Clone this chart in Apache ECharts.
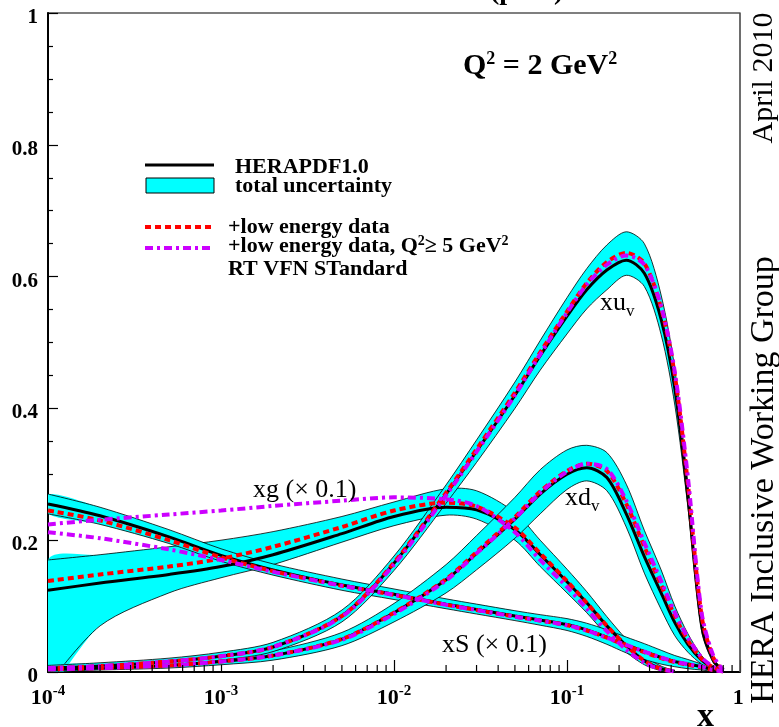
<!DOCTYPE html>
<html>
<head>
<meta charset="utf-8">
<script src="https://cdn.jsdelivr.net/npm/echarts@6/dist/echarts.min.js"></script>
<style>
  html, body { margin: 0; padding: 0; background: #fff; }
  #chart { width: 779px; height: 727px; }
</style>
</head>
<body>
<div id="chart"></div>
<script>
// x grid shared by all curves
const xs = [1e-4, 2e-4, 5e-4, 1e-3, 2e-3, 5e-3, 0.01, 0.02, 0.03, 0.05, 0.07, 0.1, 0.13, 0.17, 0.22, 0.28, 0.35, 0.42, 0.5, 0.6, 0.7, 0.8]

// xu_v
const uv   = [0.006,0.009,0.016,0.024,0.038,0.085,0.165,0.27,0.335,0.42,0.48,0.54,0.58,0.61,0.625,0.605,0.535,0.43,0.265,0.07,0.018,0.002]
const uvUp = [0.010,0.014,0.021,0.030,0.045,0.094,0.176,0.284,0.352,0.44,0.503,0.568,0.612,0.648,0.668,0.65,0.572,0.46,0.285,0.08,0.022,0.002]
const uvLo = [0.002,0.005,0.011,0.018,0.031,0.076,0.154,0.256,0.318,0.40,0.458,0.513,0.551,0.58,0.602,0.585,0.512,0.405,0.25,0.062,0.014,0.001]
const uvLE = [0.006,0.009,0.016,0.024,0.038,0.085,0.166,0.272,0.338,0.424,0.485,0.547,0.59,0.622,0.636,0.62,0.552,0.45,0.285,0.085,0.022,0.002]
const uvQ5 = [0.006,0.009,0.016,0.024,0.038,0.084,0.163,0.268,0.334,0.42,0.482,0.545,0.588,0.618,0.632,0.618,0.555,0.455,0.295,0.09,0.025,0.003]

// xd_v
const dv   = [0.004,0.006,0.010,0.016,0.025,0.05,0.09,0.14,0.18,0.232,0.27,0.30,0.31,0.295,0.24,0.175,0.12,0.075,0.042,0.018,0.006,0.001]
const dvUp = [0.007,0.009,0.014,0.021,0.032,0.06,0.104,0.163,0.207,0.265,0.307,0.337,0.344,0.333,0.285,0.215,0.155,0.1,0.058,0.025,0.008,0.001]
const dvLo = [0.001,0.003,0.006,0.011,0.018,0.04,0.076,0.12,0.155,0.203,0.24,0.277,0.29,0.275,0.22,0.15,0.095,0.055,0.03,0.012,0.004,0]
const dvLE = [0.004,0.006,0.010,0.016,0.025,0.05,0.09,0.141,0.182,0.235,0.274,0.305,0.316,0.305,0.255,0.19,0.132,0.085,0.048,0.02,0.007,0.001]
const dvQ5 = [0.004,0.006,0.010,0.016,0.025,0.049,0.088,0.139,0.18,0.233,0.272,0.304,0.316,0.308,0.26,0.196,0.138,0.09,0.052,0.022,0.008,0.001]

// xg (x 0.1)
const g   = [0.124,0.135,0.148,0.16,0.178,0.21,0.236,0.25,0.246,0.216,0.178,0.137,0.105,0.07,0.04,0.017,0.005,0.001,null,null,null,null]
const gUp = [0.17,0.178,0.19,0.2,0.213,0.236,0.258,0.278,0.275,0.242,0.2,0.156,0.122,0.084,0.05,0.024,0.009,0.002,null,null,null,null]
const gLo = [-0.02,0.07,0.12,0.143,0.163,0.197,0.222,0.238,0.232,0.2,0.16,0.12,0.09,0.056,0.03,0.011,0.002,0,null,null,null,null]
const gLE = [0.138,0.148,0.16,0.172,0.19,0.22,0.245,0.257,0.251,0.219,0.18,0.138,0.105,0.07,0.04,0.017,0.005,0.001,null,null,null,null]
const gQ5 = [0.224,0.231,0.239,0.245,0.252,0.26,0.265,0.262,0.252,0.212,0.17,0.129,0.096,0.062,0.034,0.014,0.004,0.001,null,null,null,null]

// xS (x 0.1)
const sea   = [0.255,0.237,0.205,0.177,0.155,0.132,0.118,0.103,0.095,0.085,0.079,0.072,0.064,0.053,0.041,0.031,0.022,0.016,0.012,0.008,0.003,0.001]
const seaUp = [0.27,0.25,0.216,0.187,0.164,0.141,0.126,0.111,0.103,0.093,0.087,0.081,0.074,0.064,0.053,0.043,0.033,0.025,0.019,0.012,0.005,0.001]
const seaLo = [0.24,0.224,0.195,0.168,0.147,0.124,0.110,0.096,0.088,0.078,0.071,0.063,0.054,0.042,0.029,0.019,0.012,0.008,0.005,0.003,0.001,0]
const seaLE = [0.245,0.23,0.2,0.174,0.153,0.131,0.117,0.102,0.094,0.084,0.078,0.071,0.063,0.052,0.04,0.03,0.021,0.015,0.011,0.007,0.003,0.001]
const seaQ5 = [0.212,0.203,0.186,0.17,0.152,0.131,0.117,0.102,0.094,0.084,0.078,0.071,0.063,0.052,0.041,0.031,0.022,0.016,0.012,0.008,0.003,0.001]

// log minor tick positions on the x axis
const xMinor = [2e-4,3e-4,4e-4,5e-4,6e-4,7e-4,8e-4,9e-4, 2e-3,3e-3,4e-3,5e-3,6e-3,7e-3,8e-3,9e-3,
  0.02,0.03,0.04,0.05,0.06,0.07,0.08,0.09, 0.2,0.3,0.4,0.5,0.6,0.7,0.8,0.9]

const SERIF = '"Liberation Serif", "DejaVu Serif", serif'
const CYAN = '#00ffff'
const RED = '#ff0000'
const MAGENTA = '#cc00ff'
const SMOOTH = 0.3

const chart = echarts.init(document.getElementById('chart'))

function pairs(arr) {
  return xs.map((x, i) => [x, arr[i]])
}

// uncertainty band: one custom item drawing the filled polygon and its two edges
function band(lo, up) {
  return {
    type: 'custom', coordinateSystem: 'cartesian2d', silent: true, z: 1,
    data: xs.map((x, i) => [x, lo[i], up[i]]),
    renderItem: (params, api) => {
      if (params.dataIndex !== 0) return null
      const top = [], bot = []
      xs.forEach((x, i) => {
        if (up[i] != null && lo[i] != null) {
          top.push(api.coord([x, up[i]]))
          bot.push(api.coord([x, lo[i]]))
        }
      })
      const cs = params.coordSys
      return {
        type: 'group',
        clipPath: { type: 'rect', shape: { x: cs.x, y: cs.y, width: cs.width, height: cs.height } },
        children: [
          { type: 'polygon', shape: { points: top.concat(bot.slice().reverse()), smooth: SMOOTH },
            style: { fill: CYAN, stroke: null } },
          { type: 'polyline', shape: { points: top, smooth: SMOOTH },
            style: { stroke: '#000', lineWidth: 0.8, fill: null } },
          { type: 'polyline', shape: { points: bot, smooth: SMOOTH },
            style: { stroke: '#000', lineWidth: 0.8, fill: null } }
        ]
      }
    }
  }
}

function curve(arr, color, width, type, z) {
  return {
    type: 'line', data: pairs(arr), symbol: 'none', smooth: SMOOTH, z: z, silent: true,
    lineStyle: { color: color, width: width, type: type }
  }
}

const series = [
  band(gLo, gUp),
  band(seaLo, seaUp),
  band(dvLo, dvUp),
  band(uvLo, uvUp),
  curve(g, '#000', 3, 'solid', 2),
  curve(sea, '#000', 3, 'solid', 2),
  curve(dv, '#000', 3, 'solid', 2),
  curve(uv, '#000', 3, 'solid', 2),
  curve(gLE, RED, 4, [6, 4], 3),
  curve(seaLE, RED, 4, [6, 4], 3),
  curve(dvLE, RED, 4, [6, 4], 3),
  curve(uvLE, RED, 4, [6, 4], 3),
  curve(gQ5, MAGENTA, 4, [8, 4, 3, 4], 4),
  curve(seaQ5, MAGENTA, 4, [8, 4, 3, 4], 4),
  curve(dvQ5, MAGENTA, 4, [8, 4, 3, 4], 4),
  curve(uvQ5, MAGENTA, 4, [8, 4, 3, 4], 4),
  {
    type: 'custom', coordinateSystem: 'cartesian2d', silent: true, clip: false, z: 10,
    data: xMinor.map(v => [v, 0]),
    renderItem: (params, api) => {
      const p = api.coord([api.value(0), 0])
      return {
        type: 'line',
        shape: { x1: p[0], y1: p[1], x2: p[0], y2: p[1] - 7 },
        style: { stroke: '#000', lineWidth: 1.2 }
      }
    }
  }
]

const tokB = { fontFamily: SERIF, fontWeight: 'bold', fontSize: 22, color: '#000', verticalAlign: 'bottom' }
const tokS = { fontFamily: SERIF, fontWeight: 'bold', fontSize: 15, color: '#000', verticalAlign: 'bottom', padding: [0, 0, 10, 0] }

const bigB = { fontFamily: SERIF, fontWeight: 'bold', fontSize: 30, fill: '#000', verticalAlign: 'bottom' }
const bigS = { fontFamily: SERIF, fontWeight: 'bold', fontSize: 18, fill: '#000', verticalAlign: 'bottom', padding: [0, 0, 13, 0] }
const legB = { fontFamily: SERIF, fontWeight: 'bold', fontSize: 22, fill: '#000', verticalAlign: 'bottom' }
const legS = { fontFamily: SERIF, fontWeight: 'bold', fontSize: 14, fill: '#000', verticalAlign: 'bottom', padding: [0, 0, 9, 0] }
const labN = { fontFamily: SERIF, fontSize: 26, fill: '#000', verticalAlign: 'top' }
const labSub = { fontFamily: SERIF, fontSize: 17, fill: '#000', verticalAlign: 'top', padding: [13, 0, 0, 0] }

function legText(x, y, text) {
  return {
    type: 'text', left: x, top: y, z: 20,
    style: { text: text, rich: { b: legB, s: legS }, fill: '#000' }
  }
}

const graphic = [
  // title fragment cut by the top edge
  { type: 'text', x: 490, y: 6, z: 20,
    style: { text: '(prel.)', font: 'bold 28px ' + SERIF, fill: '#000', verticalAlign: 'bottom' } },
  { type: 'text', x: 463, y: 50, z: 20,
    style: { text: '{b|Q}{s|2}{b| = 2 GeV}{s|2}', rich: { b: bigB, s: bigS }, fill: '#000' } },
  // legend
  { type: 'line', shape: { x1: 145, y1: 165, x2: 214, y2: 165 }, style: { stroke: '#000', lineWidth: 3 }, z: 20 },
  { type: 'rect', shape: { x: 146, y: 178, width: 68, height: 15 }, style: { fill: CYAN, stroke: '#000', lineWidth: 1 }, z: 20 },
  { type: 'line', shape: { x1: 145, y1: 227, x2: 215, y2: 227 }, style: { stroke: RED, lineWidth: 4, lineDash: [6, 4] }, z: 20 },
  { type: 'line', shape: { x1: 145, y1: 248, x2: 210, y2: 248 }, style: { stroke: MAGENTA, lineWidth: 4, lineDash: [8, 4, 3, 4] }, z: 20 },
  legText(235, 156, '{b|HERAPDF1.0}'),
  legText(235, 175, '{b|total uncertainty}'),
  legText(228, 216, '{b|+low energy data}'),
  legText(228, 234, '{b|+low energy data, Q}{s|2}{b|≥ 5 GeV}{s|2}'),
  legText(228, 258, '{b|RT VFN STandard}'),
  // curve labels
  { type: 'text', x: 600, y: 290, z: 20, style: { text: '{n|xu}{v|v}', rich: { n: labN, v: labSub } } },
  { type: 'text', x: 565, y: 485, z: 20, style: { text: '{n|xd}{v|v}', rich: { n: labN, v: labSub } } },
  { type: 'text', x: 253, y: 477, z: 20, style: { text: 'xg (× 0.1)', font: '26px ' + SERIF, fill: '#000' } },
  { type: 'text', x: 442, y: 632, z: 20, style: { text: 'xS (× 0.1)', font: '26px ' + SERIF, fill: '#000' } },
  // axis title
  { type: 'text', x: 697, y: 700, z: 20, style: { text: 'x', font: 'bold 34px ' + SERIF, fill: '#000' } },
  // right frame edge is a thin grey line
  { type: 'line', shape: { x1: 740, y1: 13, x2: 740, y2: 672 }, style: { stroke: '#777', lineWidth: 1 }, z: 21 },
  // vertical notes on the right
  { type: 'text', x: 764, y: 480, rotation: Math.PI / 2, z: 20,
    style: { text: 'HERA Inclusive Working Group', font: '34px ' + SERIF, fill: '#000', align: 'center', verticalAlign: 'middle' } },
  { type: 'text', x: 764, y: 78, rotation: Math.PI / 2, z: 20,
    style: { text: 'April 2010', font: '30px ' + SERIF, fill: '#000', align: 'center', verticalAlign: 'middle' } }
]

const option = {
  animation: false,
  backgroundColor: '#fff',
  grid: {
    left: 48, right: 39, top: 13, bottom: 55,
    show: true, borderColor: '#000', borderWidth: 1.2,
    containLabel: false, outerBoundsMode: 'none'
  },
  xAxis: {
    type: 'log', logBase: 10, min: 1e-4, max: 1,
    axisLine: { show: true, lineStyle: { color: '#000', width: 2 } },
    axisTick: { show: true, inside: true, length: 12, lineStyle: { color: '#000', width: 1.2 } },
    splitLine: { show: false },
    axisLabel: {
      margin: 12,
      formatter: v => {
        const e = Math.round(Math.log10(v))
        return e === 0 ? '{b|1}{s| }' : '{b|10}{s|' + e + '}'
      },
      rich: { b: tokB, s: tokS }
    }
  },
  yAxis: {
    type: 'value', min: 0, max: 1, interval: 0.2,
    axisLine: { show: true, lineStyle: { color: '#000', width: 2 } },
    axisTick: { show: true, inside: true, length: 10, lineStyle: { color: '#000', width: 1.2 } },
    minorTick: { show: true, splitNumber: 4, length: 5, lineStyle: { color: '#000', width: 1.2 } },
    splitLine: { show: false },
    axisLabel: {
      margin: 10, color: '#000', fontFamily: SERIF, fontWeight: 'bold', fontSize: 21,
      verticalAlign: 'top', lineHeight: 9,
      formatter: v => (v === 0 ? '0' : v === 1 ? '1' : v.toFixed(1))
    }
  },
  series: series,
  graphic: graphic
}

chart.setOption(option)
</script>
</body>
</html>
